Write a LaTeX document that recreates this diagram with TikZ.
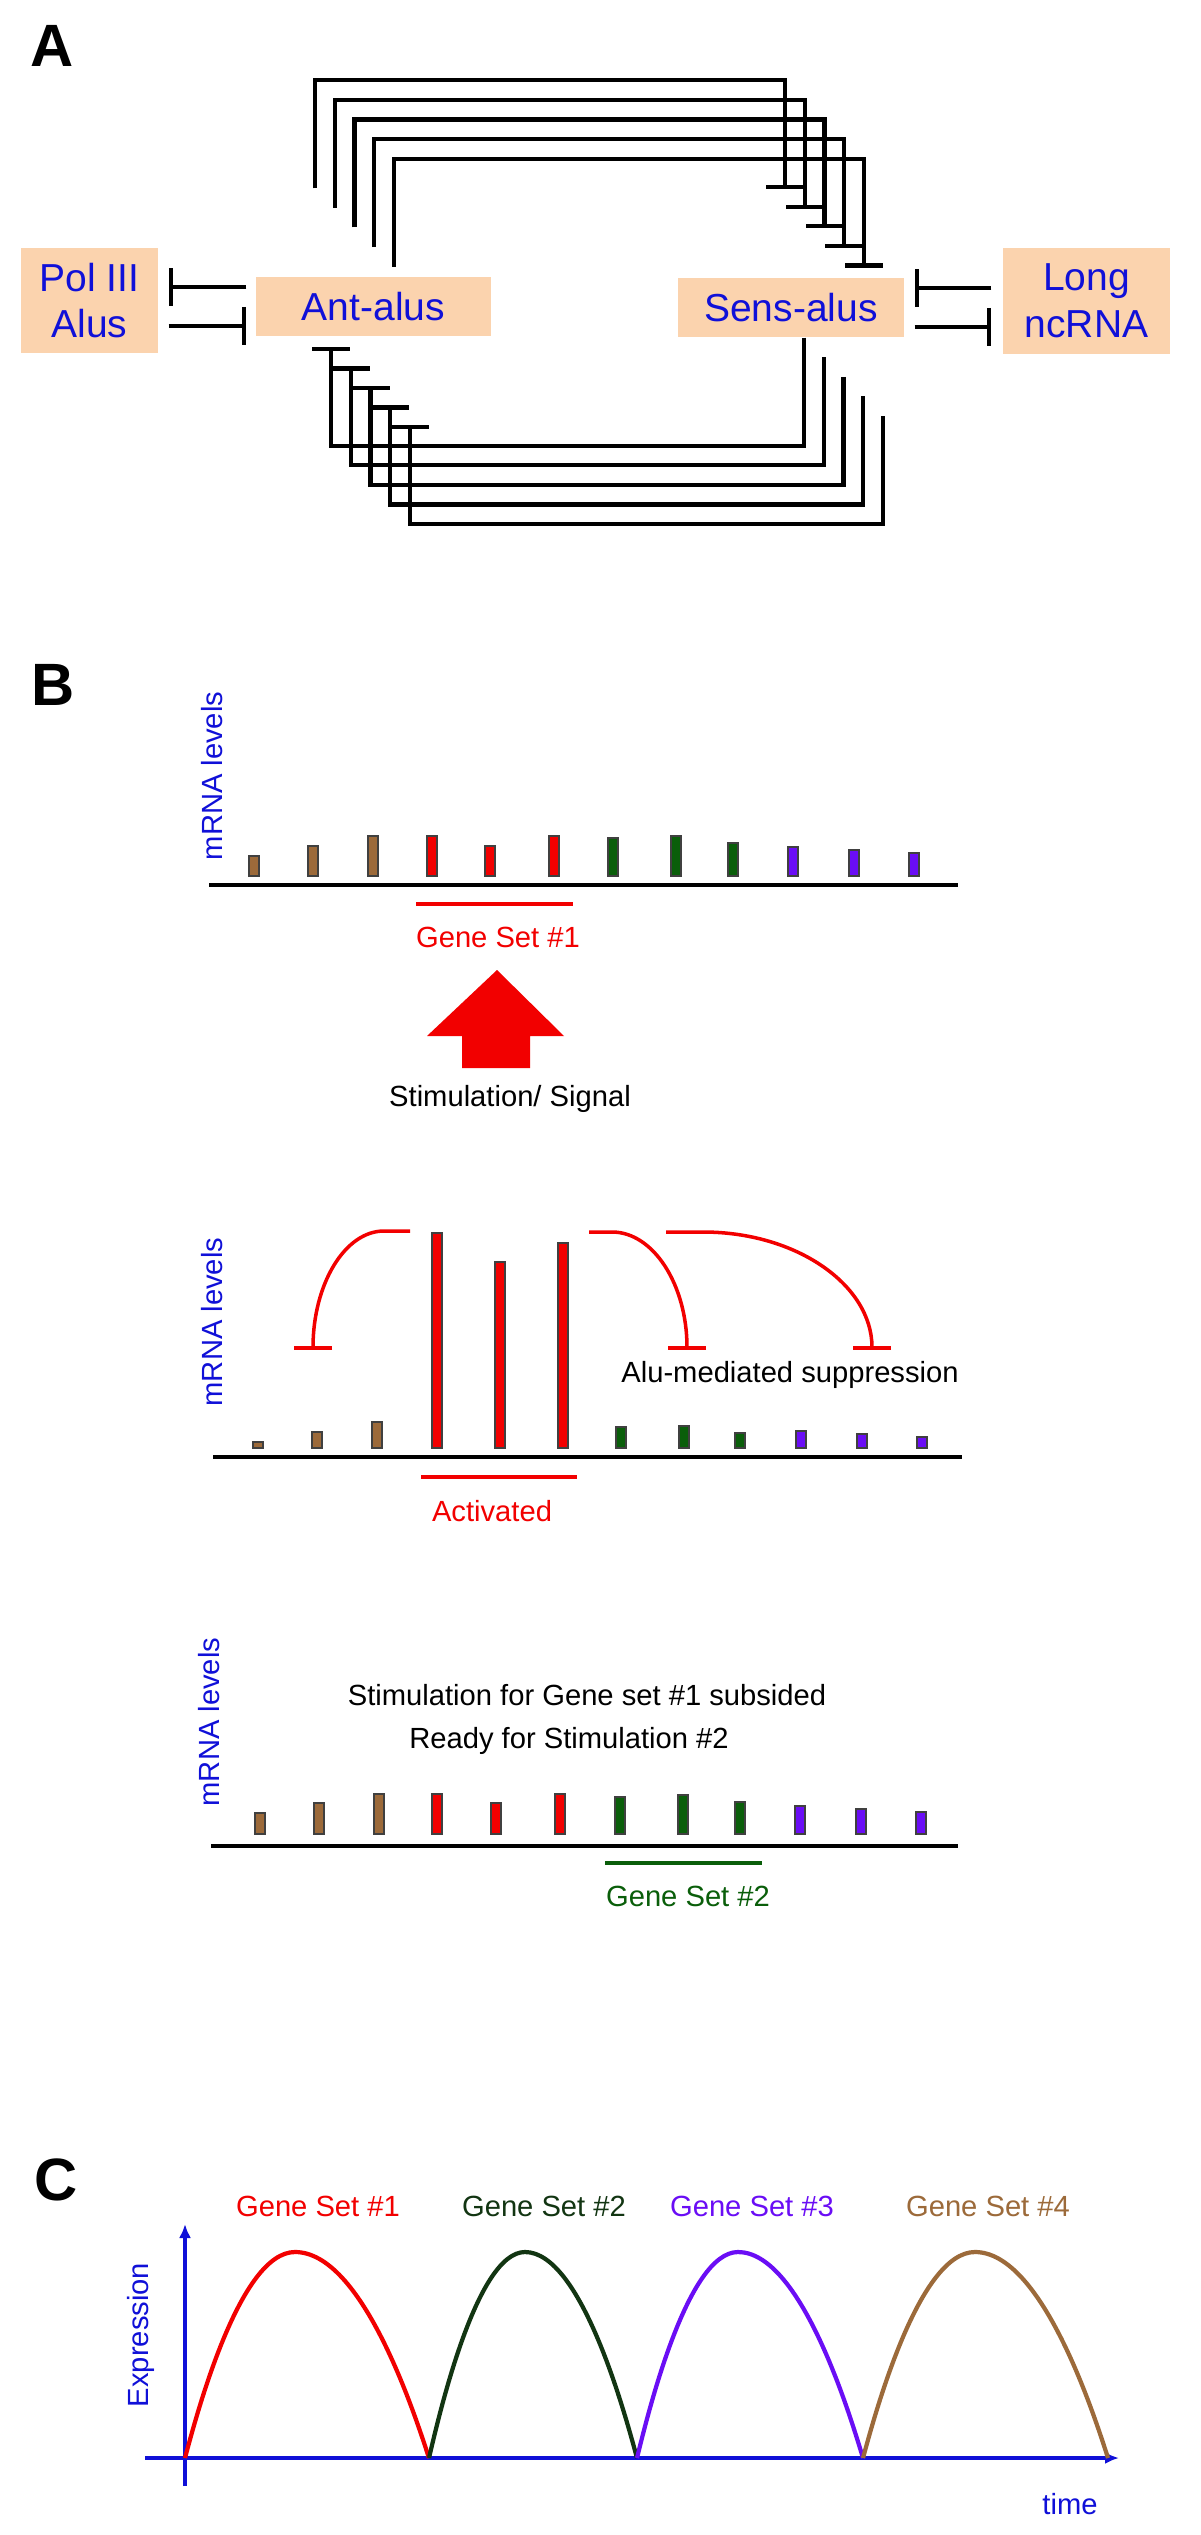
\documentclass[tikz,border=0pt]{standalone}
\usepackage{fontspec}
\setmainfont{Liberation Sans}
\usepackage{tikz}
\usetikzlibrary{arrows.meta,positioning,calc}
\definecolor{peach}{HTML}{FBD3AE}
\definecolor{alublue}{HTML}{1010D8}
\definecolor{gsred}{HTML}{F20000}
\definecolor{gsbrown}{HTML}{9C6A3A}
\definecolor{gsgreen}{HTML}{0A5E0A}
\definecolor{gsviolet}{HTML}{6A0DF5}
\definecolor{gsdark}{HTML}{123512}
\newcommand\boxfont{\fontsize{11.1}{13.3}\selectfont}
\newcommand\lblfont{\fontsize{8.3}{10}\selectfont}
\newcommand\panelfont{\fontsize{17}{17}\selectfont\bfseries}
\tikzset{
  alubox/.style={fill=peach, text=alublue, font=\boxfont, align=center, inner sep=0pt},
  blunt/.style={-{Bar[width=3.8mm]}, line width=1.2pt},
  supp/.style={-{Bar[width=3.8mm]}, draw=gsred, line width=1pt},
  genebar/.style={draw=black!75, line width=0.3pt},
  baseline/.style={line width=1.3pt},
  setline/.style={line width=1.1pt},
  levels/.style={font=\lblfont, text=alublue, rotate=90, anchor=base, inner sep=0pt},
  caption/.style={font=\lblfont, anchor=base, inner sep=0pt},
  panel/.style={font=\panelfont, inner sep=0pt},
  axisarrow/.style={-{Latex[length=1.4mm,width=1.2mm]}, draw=alublue, line width=1pt},
  wave/.style={line width=1.2pt},
}

\begin{document}
\begin{tikzpicture}
  \path[fill=white, use as bounding box] (0,0) rectangle (12,-25.35);

  % A: Alu network
  \node[panel] (labA) at (0.52,-0.455) {A};
  \node[alubox, minimum width=1.37cm, minimum height=1.05cm] (pol)  at (0.895,-3.005) {Pol III\\Alus};
  \node[alubox, minimum width=2.35cm, minimum height=0.59cm] (ant)  at (3.735,-3.065) {Ant-alus};
  \node[alubox, minimum width=2.26cm, minimum height=0.59cm] (sens) at (7.91,-3.075) {Sens-alus};
  \node[alubox, minimum width=1.67cm, minimum height=1.06cm] (long) at (10.865,-3.01) {Long\\ncRNA};

  \draw[blunt] ($(ant.west)+(-0.09,0.195)$) -- ($(pol.east |- ant.west)+(0.10,0.195)$);
  \draw[blunt] ($(pol.east |- ant.west)+(0.10,-0.195)$) -- ($(ant.west)+(-0.09,-0.195)$);
  \draw[blunt] ($(long.west |- sens.east)+(-0.11,0.195)$) -- ($(sens.east)+(0.10,0.195)$);
  \draw[blunt] ($(sens.east)+(0.10,-0.195)$) -- ($(long.west |- sens.east)+(-0.11,-0.195)$);

  \foreach \i in {0,...,4} {
    \draw[blunt] ($(ant.north west)+(0.60+0.196*\i,0.88-0.196*\i)$) -- ++(0,1.08)
      -| ($(sens.north west)+(1.08+0.196*\i,0.88-0.196*\i)$);
    \draw[blunt] ($(sens.south west)+(1.27+0.196*\i,-0.196*\i)$) -- ++(0,-1.08)
      -| ($(ant.south west)+(0.76+0.196*\i,-0.10-0.196*\i)$);
  }

  % B: before stimulation
  \node[panel] (labB) at (0.535,-6.85) {B};
  \node[levels] (lev1) at (2.22,-7.76) {mRNA levels};
  \draw[baseline] (2.09,-8.85) -- (9.58,-8.85);
  \foreach \x/\h/\c in {2.54/0.20/gsbrown, 3.13/0.30/gsbrown, 3.73/0.40/gsbrown,
                        4.32/0.40/gsred, 4.90/0.30/gsred, 5.54/0.40/gsred,
                        6.13/0.38/gsgreen, 6.76/0.40/gsgreen, 7.33/0.33/gsgreen,
                        7.93/0.29/gsviolet, 8.54/0.26/gsviolet, 9.14/0.23/gsviolet}
    \filldraw[genebar, fill=\c] (\x-0.05,-8.76) rectangle (\x+0.05,-8.76+\h);
  \draw[setline, gsred] (4.16,-9.04) -- (5.73,-9.04);
  \node[caption, text=gsred] (set1) at (4.98,-9.47) {Gene Set \#1};
  \fill[gsred] (4.97,-9.70) -- (5.64,-10.36) -- (5.30,-10.36) -- (5.30,-10.68)
    -- (4.62,-10.68) -- (4.62,-10.36) -- (4.27,-10.36) -- cycle;
  \node[caption] (stim) at (5.10,-11.06) {Stimulation/ Signal};

  % B: activated set
  \node[levels] (lev2) at (2.22,-13.22) {mRNA levels};
  \draw[baseline] (2.13,-14.57) -- (9.62,-14.57);
  \foreach \x/\h/\c in {2.58/0.06/gsbrown, 3.17/0.16/gsbrown, 3.77/0.26/gsbrown,
                        4.37/2.15/gsred, 5.00/1.86/gsred, 5.63/2.05/gsred,
                        6.21/0.21/gsgreen, 6.84/0.22/gsgreen, 7.40/0.15/gsgreen,
                        8.01/0.17/gsviolet, 8.62/0.14/gsviolet, 9.22/0.11/gsviolet}
    \filldraw[genebar, fill=\c] (\x-0.05,-14.48) rectangle (\x+0.05,-14.48+\h);
  \coordinate (actL) at (4.10,-12.31);
  \coordinate (actR) at (5.89,-12.32);
  \coordinate (actF) at (6.66,-12.32);
  \draw[supp] (actL) -- (3.84,-12.31) arc[start angle=90, end angle=180, x radius=0.71, y radius=1.19];
  \draw[supp] (actR) -- (6.12,-12.32) arc[start angle=90, end angle=0, x radius=0.75, y radius=1.18];
  \draw[supp] (actF) -- (7.03,-12.32) arc[start angle=90, end angle=0, x radius=1.69, y radius=1.18];
  \node[caption] (supptext) at (7.90,-13.82) {Alu-mediated suppression};
  \draw[setline, gsred] (4.21,-14.77) -- (5.77,-14.77);
  \node[caption, text=gsred] (act) at (4.92,-15.21) {Activated};

  % B: ready for next set
  \node[levels] (lev3) at (2.19,-17.22) {mRNA levels};
  \node[caption] (subs) at (5.87,-17.05) {Stimulation for Gene set \#1 subsided};
  \node[caption] (ready) at (5.69,-17.48) {Ready for Stimulation \#2};
  \draw[baseline] (2.11,-18.46) -- (9.58,-18.46);
  \foreach \x/\h/\c in {2.60/0.21/gsbrown, 3.19/0.31/gsbrown, 3.79/0.40/gsbrown,
                        4.37/0.40/gsred, 4.96/0.31/gsred, 5.60/0.40/gsred,
                        6.20/0.37/gsgreen, 6.83/0.39/gsgreen, 7.40/0.32/gsgreen,
                        8.00/0.28/gsviolet, 8.61/0.25/gsviolet, 9.21/0.22/gsviolet}
    \filldraw[genebar, fill=\c] (\x-0.05,-18.34) rectangle (\x+0.05,-18.34+\h);
  \draw[setline, gsgreen] (6.05,-18.63) -- (7.62,-18.63);
  \node[caption, text=gsgreen] (set2) at (6.88,-19.06) {Gene Set \#2};

  % C: waves of expression
  \node[panel] (labC) at (0.565,-21.80) {C};
  \coordinate (orig) at (1.85,-24.58);
  \draw[axisarrow] (1.85,-24.86) -- (1.85,-22.24);
  \draw[axisarrow] (1.45,-24.58) -- (11.19,-24.58);
  \node[levels, text=alublue] (expr) at (1.48,-23.35) {Expression};
  \node[caption, text=alublue] (time) at (10.70,-25.14) {time};
  \draw[wave, gsred]    (orig) parabola bend (2.95,-22.52) (4.29,-24.58);
  \draw[wave, gsdark]   (4.29,-24.58) parabola bend (5.25,-22.52) (6.37,-24.58);
  \draw[wave, gsviolet] (6.37,-24.58) parabola bend (7.38,-22.52) (8.63,-24.58);
  \draw[wave, gsbrown]  (8.63,-24.58) parabola bend (9.75,-22.52) (11.08,-24.58);
  \node[caption, text=gsred]    (c1) at (3.18,-22.165) {Gene Set \#1};
  \node[caption, text=gsdark]   (c2) at (5.44,-22.165) {Gene Set \#2};
  \node[caption, text=gsviolet] (c3) at (7.52,-22.165) {Gene Set \#3};
  \node[caption, text=gsbrown]  (c4) at (9.88,-22.165) {Gene Set \#4};
\end{tikzpicture}
\end{document}
